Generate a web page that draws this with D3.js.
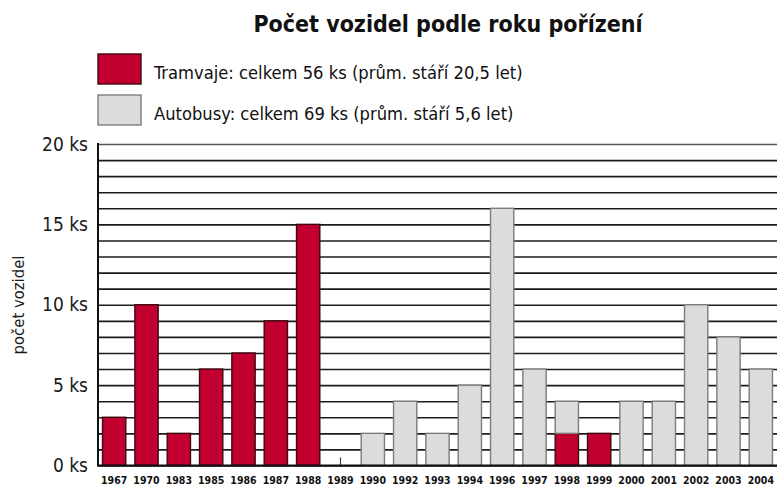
<!DOCTYPE html>
<html>
<head>
<meta charset="utf-8">
<script src="https://d3js.org/d3.v7.min.js"></script>
<style>
  body { margin: 0; background: #fff; }
  svg { display: block; }
</style>
</head>
<body>
<svg id="chart" width="779" height="487"></svg>
<script>
"use strict"

// data
const years = ["1967", "1970", "1983", "1985", "1986", "1987", "1988", "1989", "1990", "1992", "1993",
  "1994", "1996", "1997", "1998", "1999", "2000", "2001", "2002", "2003", "2004"]
const tramvaje = [3, 10, 2, 6, 7, 9, 15, 0, 0, 0, 0, 0, 0, 0, 2, 2, 0, 0, 0, 0, 0]
const autobusy = [0, 0, 0, 0, 0, 0, 0, 0, 2, 4, 2, 5, 16, 6, 2, 0, 4, 4, 10, 8, 6]
const yLabelTicks = [0, 5, 10, 15, 20]
const legendLabels = [
  "Tramvaje: celkem 56 ks (prům. stáří 20,5 let)",
  "Autobusy: celkem 69 ks (prům. stáří 5,6 let)",
]
const title = "Počet vozidel podle roku pořízení"
const yTitle = "počet vozidel"

const colors = { tram: "#c1002f", bus: "#dcdcdc" }
const strokes = { tram: "#3c0812", bus: "#7c7c7c" }

const W = 779, H = 487
const m = { left: 98, right: 2, top: 144, bottom: 21.5 }
const condensed = "'DejaVu Sans Condensed', 'DejaVu Sans', sans-serif"

const svg = d3.select("#chart")

const x = d3.scaleBand()
  .domain(years)
  .range([m.left, W - m.right])
  .paddingInner(0.28)
  .paddingOuter(0.14)

const y = d3.scaleLinear()
  .domain([0, 20])
  .range([H - m.bottom, m.top])

const rows = years.map((yr, i) => ({ year: yr, tram: tramvaje[i], bus: autobusy[i] }))
const series = d3.stack().keys(["tram", "bus"])(rows)

// grid lines, one per vehicle
const grid = svg.append("g")
  .attr("transform", `translate(${m.left},0)`)
  .call(d3.axisLeft(y).tickValues(d3.range(0, 21)).tickSize(-(W - m.left - m.right)).tickFormat(""))
grid.select(".domain").remove()
grid.selectAll(".tick line")
  .attr("stroke", d => d === 20 ? "#555" : "#1c1c1c")
  .attr("stroke-width", 1.6)

// y labels
const yAxis = svg.append("g")
  .attr("transform", `translate(${m.left},0)`)
  .call(d3.axisLeft(y).tickValues(yLabelTicks).tickSize(0).tickPadding(10).tickFormat(d => d + " ks"))
yAxis.select(".domain").remove()
yAxis.selectAll("text")
  .attr("font-family", condensed)
  .attr("font-stretch", "condensed")
  .attr("font-size", 19)
  .attr("fill", "#1a1a1a")

// bars
svg.append("g")
  .selectAll("g")
  .data(series)
  .join("g")
    .attr("fill", s => colors[s.key])
    .attr("stroke", s => strokes[s.key])
    .attr("stroke-width", 1.4)
  .selectAll("rect")
  .data(s => s.filter(d => d[1] > d[0]))
  .join("rect")
    .attr("x", d => x(d.data.year))
    .attr("width", x.bandwidth())
    .attr("y", d => y(d[1]))
    .attr("height", d => y(d[0]) - y(d[1]))

// the little stub where a year has nothing
svg.append("g")
  .selectAll("line")
  .data(rows.filter(r => r.tram + r.bus === 0))
  .join("line")
    .attr("x1", r => x(r.year) + x.bandwidth() / 2)
    .attr("x2", r => x(r.year) + x.bandwidth() / 2)
    .attr("y1", y(0))
    .attr("y2", y(0.5))
    .attr("stroke", "#444")
    .attr("stroke-width", 1.2)

// axis lines
svg.append("line")
  .attr("x1", m.left).attr("x2", m.left)
  .attr("y1", y(20) - 1).attr("y2", y(0) + 1)
  .attr("stroke", "#111").attr("stroke-width", 2)
svg.append("line")
  .attr("x1", m.left).attr("x2", W - m.right)
  .attr("y1", y(0)).attr("y2", y(0))
  .attr("stroke", "#111").attr("stroke-width", 2)

// x labels
const xAxis = svg.append("g")
  .attr("transform", `translate(0,${y(0)})`)
  .call(d3.axisBottom(x).tickSize(0).tickPadding(11))
xAxis.select(".domain").remove()
xAxis.selectAll("text")
  .attr("font-family", condensed)
  .attr("font-stretch", "condensed")
  .attr("font-weight", "bold")
  .attr("font-size", 10.5)
  .attr("fill", "#111")

// y title
svg.append("text")
  .attr("transform", "translate(24,305) rotate(-90)")
  .attr("text-anchor", "middle")
  .attr("font-family", condensed)
  .attr("font-stretch", "condensed")
  .attr("font-size", 16.5)
  .attr("fill", "#1a1a1a")
  .text(yTitle)

// title
svg.append("text")
  .attr("x", 448)
  .attr("y", 32)
  .attr("text-anchor", "middle")
  .attr("font-family", condensed)
  .attr("font-stretch", "condensed")
  .attr("font-weight", "bold")
  .attr("font-size", 23)
  .attr("fill", "#111")
  .text(title)

// legend
const legend = svg.append("g")
  .selectAll("g")
  .data(["tram", "bus"])
  .join("g")
    .attr("transform", (k, i) => `translate(98,${54 + i * 41})`)
legend.append("rect")
  .attr("width", 43)
  .attr("height", 30)
  .attr("fill", k => colors[k])
  .attr("stroke", k => strokes[k])
  .attr("stroke-width", 1.4)
legend.append("text")
  .attr("x", 56)
  .attr("y", 24.5)
  .attr("font-family", condensed)
  .attr("font-stretch", "condensed")
  .attr("font-size", 18.2)
  .attr("fill", "#111")
  .text((k, i) => legendLabels[i])
</script>
</body>
</html>
